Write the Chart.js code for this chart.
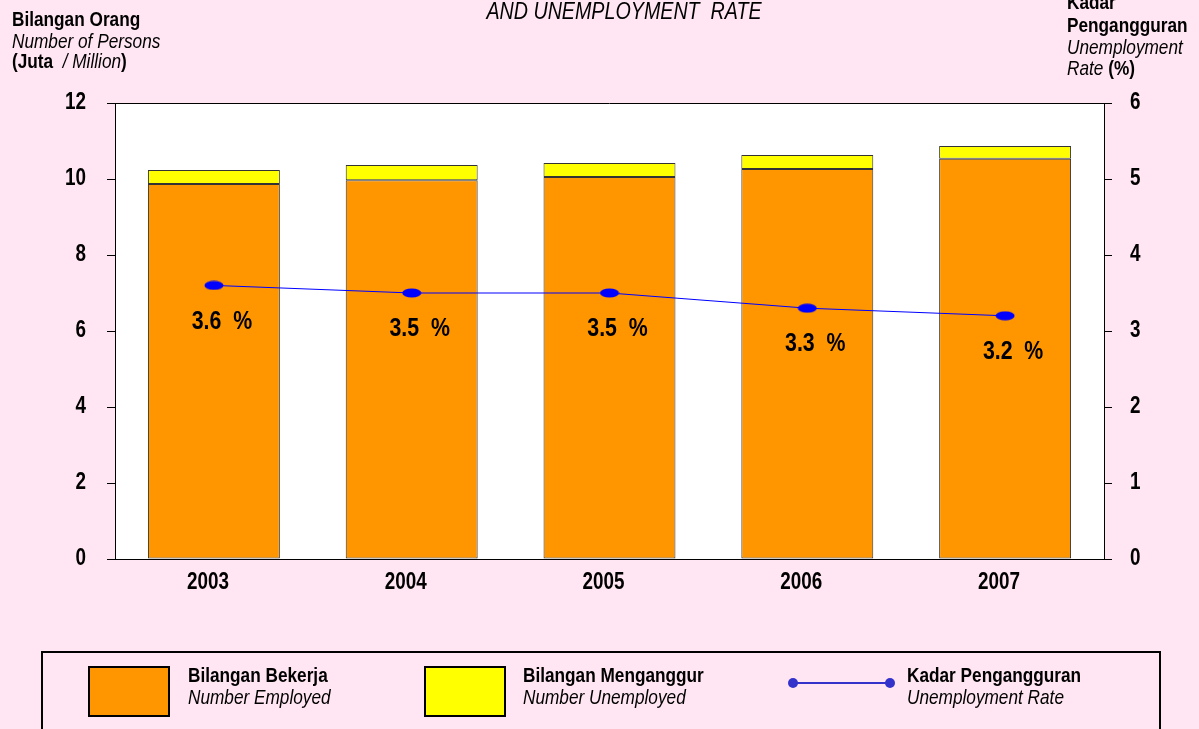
<!DOCTYPE html>
<html>
<head>
<meta charset="utf-8">
<script src="https://cdn.jsdelivr.net/npm/chart.js@4"></script>
<style>
  html, body { margin: 0; padding: 0; background: #FFE6F2; overflow: hidden; }
  #chart { display: block; }
</style>
</head>
<body>
<canvas id="chart" width="1199" height="729"></canvas>
<script>
const years = ['2003', '2004', '2005', '2006', '2007'];
const employed = [9.87, 9.97, 10.05, 10.26, 10.53];
const unemployed = [0.37, 0.40, 0.37, 0.37, 0.34];
const rate = [3.6, 3.5, 3.5, 3.3, 3.2];
const leftTicks = [0, 2, 4, 6, 8, 10, 12];
const rightTicks = [0, 1, 2, 3, 4, 5, 6];

const FONT = "'Liberation Sans', Arial, sans-serif";
const SX = 0.82; // squeeze text to look like Arial Narrow
Chart.defaults.font.family = FONT;
Chart.defaults.color = '#000';

// blue ellipse marker for the rate line
const dot = document.createElement('canvas');
dot.width = 20;
dot.height = 10;
const dctx = dot.getContext('2d');
dctx.fillStyle = '#0000FF';
dctx.beginPath();
dctx.ellipse(10, 5, 9.5, 4.5, 0, 0, Math.PI * 2);
dctx.fill();

function narrow(ctx, text, x, y, font, align = 'left', baseline = 'alphabetic') {
    ctx.save();
    ctx.font = font;
    ctx.textAlign = align;
    ctx.textBaseline = baseline;
    ctx.translate(x, y);
    ctx.scale(SX, 1);
    ctx.fillText(text, 0, 0);
    const w = ctx.measureText(text).width * SX;
    ctx.restore();
    return w;
}

function drawRuns(ctx, x, y, runs) {
    runs.forEach(([text, font]) => {
        x += narrow(ctx, text, x, y, font);
    });
}

const plotBox = {
    id: 'plotBox',
    beforeDraw(chart) {
        const {ctx, chartArea: a} = chart;
        ctx.save();
        ctx.fillStyle = '#fff';
        ctx.fillRect(a.left, a.top, a.right - a.left, a.bottom - a.top);
        ctx.restore();
    },
    afterDraw(chart) {
        const {ctx, chartArea: a} = chart;
        ctx.save();
        ctx.strokeStyle = '#000';
        ctx.lineWidth = 1;
        ctx.beginPath();
        ctx.moveTo(a.left, a.top + 0.5);
        ctx.lineTo(a.right, a.top + 0.5);
        ctx.stroke();
        ctx.restore();
    }
};

// tick labels drawn narrow, positions from the chart's own scales
const tickText = {
    id: 'tickText',
    afterDraw(chart) {
        const {ctx, scales} = chart;
        ctx.fillStyle = '#000';
        const f = 'bold 23px ' + FONT;
        leftTicks.forEach(v => narrow(ctx, String(v), 86, scales.y.getPixelForValue(v), f, 'right', 'middle'));
        rightTicks.forEach(v => narrow(ctx, String(v), 1130, scales.y1.getPixelForValue(v), f, 'left', 'middle'));
        years.forEach((yr, i) => narrow(ctx, yr, scales.x.getPixelForValue(i) - 6, 583, f, 'center', 'middle'));
    }
};

const rateLabels = {
    id: 'rateLabels',
    afterDatasetsDraw(chart) {
        const {ctx} = chart;
        const meta = chart.getDatasetMeta(2);
        ctx.fillStyle = '#000';
        meta.data.forEach((pt, i) => {
            narrow(ctx, rate[i].toFixed(1) + '  %', pt.x + 8, pt.y + 36, 'bold 26px ' + FONT, 'center', 'middle');
        });
    }
};

const texts = {
    id: 'texts',
    afterDraw(chart) {
        const {ctx} = chart;
        const B = 'bold 21px ' + FONT;
        const I = 'italic 21px ' + FONT;
        ctx.save();
        ctx.fillStyle = '#000';

        narrow(ctx, 'AND UNEMPLOYMENT  RATE', 624, 19, 'italic 24px ' + FONT, 'center');

        drawRuns(ctx, 12, 26, [['Bilangan Orang', B]]);
        drawRuns(ctx, 12, 48, [['Number of Persons', I]]);
        drawRuns(ctx, 12, 68, [['(Juta  ', B], ['/ Million', I], [')', B]]);

        drawRuns(ctx, 1067, 9, [['Kadar', B]]);
        drawRuns(ctx, 1067, 32, [['Pengangguran', B]]);
        drawRuns(ctx, 1067, 54, [['Unemployment', I]]);
        drawRuns(ctx, 1067, 75, [['Rate ', I], ['(%)', B]]);

        // legend
        ctx.lineWidth = 2;
        ctx.strokeStyle = '#000';
        ctx.strokeRect(42, 652, 1118, 100);

        ctx.fillStyle = '#FF9600';
        ctx.fillRect(89, 667, 80, 49);
        ctx.strokeRect(89, 667, 80, 49);
        ctx.fillStyle = '#FFFF00';
        ctx.fillRect(425, 667, 80, 49);
        ctx.strokeRect(425, 667, 80, 49);

        ctx.strokeStyle = '#3333CC';
        ctx.beginPath();
        ctx.moveTo(793, 683);
        ctx.lineTo(890, 683);
        ctx.stroke();
        ctx.fillStyle = '#3333CC';
        [793, 890].forEach(x => {
            ctx.beginPath();
            ctx.arc(x, 683, 5, 0, Math.PI * 2);
            ctx.fill();
        });

        ctx.fillStyle = '#000';
        drawRuns(ctx, 188, 682, [['Bilangan Bekerja', B]]);
        drawRuns(ctx, 188, 704, [['Number Employed', I]]);
        drawRuns(ctx, 523, 682, [['Bilangan Menganggur', B]]);
        drawRuns(ctx, 523, 704, [['Number Unemployed', I]]);
        drawRuns(ctx, 907, 682, [['Kadar Pengangguran', B]]);
        drawRuns(ctx, 907, 704, [['Unemployment Rate', I]]);
        ctx.restore();
    }
};

new Chart(document.getElementById('chart'), {
    data: {
        labels: years,
        datasets: [
            {
                type: 'bar',
                label: 'Bilangan Bekerja',
                data: employed,
                backgroundColor: '#FF9600',
                borderColor: '#333',
                borderWidth: 1,
                borderSkipped: false,
                stack: 's',
                yAxisID: 'y',
                order: 1
            },
            {
                type: 'bar',
                label: 'Bilangan Menganggur',
                data: unemployed,
                backgroundColor: '#FFFF00',
                borderColor: '#333',
                borderWidth: 1,
                borderSkipped: false,
                stack: 's',
                yAxisID: 'y',
                order: 1
            },
            {
                type: 'line',
                label: 'Kadar Pengangguran',
                data: rate,
                borderColor: '#0000FF',
                borderWidth: 1,
                pointStyle: dot,
                yAxisID: 'y1',
                order: 0
            }
        ]
    },
    options: {
        responsive: false,
        animation: false,
        barPercentage: 0.667,
        categoryPercentage: 1,
        layout: {padding: {top: 103}},
        plugins: {legend: {display: false}, tooltip: {enabled: false}},
        scales: {
            x: {
                stacked: true,
                grid: {display: false, drawTicks: false},
                border: {display: true, color: '#000', width: 1},
                ticks: {display: false},
                afterFit(s) { s.height = 170; }
            },
            y: {
                stacked: true,
                position: 'left',
                min: 0,
                max: 12,
                afterBuildTicks(s) { s.ticks = leftTicks.map(v => ({value: v})); },
                grid: {drawOnChartArea: false, tickLength: 8, color: '#000'},
                border: {display: true, color: '#000', width: 1},
                ticks: {display: false},
                afterFit(s) { s.width = 115; }
            },
            y1: {
                position: 'right',
                min: 0,
                max: 6,
                afterBuildTicks(s) { s.ticks = rightTicks.map(v => ({value: v})); },
                grid: {drawOnChartArea: false, tickLength: 8, color: '#000'},
                border: {display: true, color: '#000', width: 1},
                ticks: {display: false},
                afterFit(s) { s.width = 95; }
            }
        }
    },
    plugins: [plotBox, tickText, rateLabels, texts]
});
</script>
</body>
</html>
